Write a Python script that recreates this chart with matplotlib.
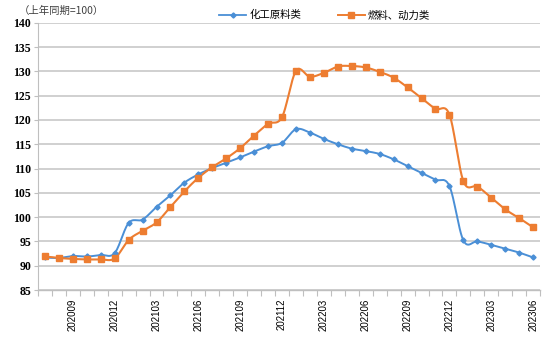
import numpy as np
import matplotlib
matplotlib.use("Agg")
import matplotlib.pyplot as plt
from matplotlib.ticker import FixedLocator

plt.rcParams['font.family'] = ['Noto Sans CJK SC', 'DejaVu Sans']

months = ["202007", "202008", "202009", "202010", "202011", "202012",
          "202101", "202102", "202103", "202104", "202105", "202106",
          "202107", "202108", "202109", "202110", "202111", "202112",
          "202201", "202202", "202203", "202204", "202205", "202206",
          "202207", "202208", "202209", "202210", "202211", "202212",
          "202301", "202302", "202303", "202304", "202305", "202306"]

chem = [91.7, 91.6, 92.0, 91.9, 92.2, 92.6,
        98.8, 99.5, 102.1, 104.5, 107.1, 108.8, 110.1, 111.2, 112.3, 113.5, 114.6, 115.3,
        118.1, 117.4, 116.1, 115.0, 114.1, 113.6, 113.0, 111.9, 110.5, 109.1, 107.7, 106.4,
        95.2, 95.0, 94.3, 93.5, 92.7, 91.7]

fuel = [91.9, 91.6, 91.4, 91.3, 91.3, 91.5,
        95.3, 97.2, 98.9, 102.1, 105.3, 108.1, 110.3, 112.1, 114.2, 116.8, 119.2, 120.6,
        130.1, 128.9, 129.7, 131.0, 131.1, 130.8, 129.9, 128.7, 126.7, 124.5, 122.3, 121.1,
        107.4, 106.3, 104.0, 101.6, 99.8, 97.9]

series_names = ["化工原料类", "燃料、动力类"]
label_months = months[2::3]
y_ticks = list(range(85, 141, 5))


def smooth(x, y, n=24):
    x = np.asarray(x, float)
    y = np.asarray(y, float)
    px = np.concatenate([[x[0]], x, [x[-1]]])
    py = np.concatenate([[y[0]], y, [y[-1]]])
    xs, ys = [], []
    t = np.linspace(0, 1, n)
    for i in range(len(x) - 1):
        p0 = np.array([px[i], py[i]])
        p1 = np.array([px[i + 1], py[i + 1]])
        p2 = np.array([px[i + 2], py[i + 2]])
        p3 = np.array([px[i + 3], py[i + 3]])
        c1 = p1 + (p2 - p0) / 6
        c2 = p2 - (p3 - p1) / 6
        b = ((1 - t) ** 3)[:, None] * p1 + (3 * (1 - t) ** 2 * t)[:, None] * c1 \
            + (3 * (1 - t) * t ** 2)[:, None] * c2 + (t ** 3)[:, None] * p2
        xs.append(b[:, 0])
        ys.append(b[:, 1])
    return np.concatenate(xs), np.concatenate(ys)


fig = plt.figure(figsize=(5.5, 3.4), dpi=100)
ax = fig.add_axes([0.069, 0.147, 0.913, 0.786])

x = np.arange(len(months))
blue = "#4a8fd6"
orange = "#ed7d31"

sx, sy = smooth(x, chem)
ax.plot(sx, sy, color=blue, lw=1.4, zorder=3)
ax.plot(x, chem, ls='none', marker='D', ms=2.6, color=blue, zorder=4)
sx, sy = smooth(x, fuel)
ax.plot(sx, sy, color=orange, lw=1.5, zorder=3)
ax.plot(x, fuel, ls='none', marker='s', ms=4.5, color=orange, zorder=4)

# legend proxies
hb, = ax.plot([], [], color=blue, lw=1.3, marker='D', ms=2.6)
ho, = ax.plot([], [], color=orange, lw=1.4, marker='s', ms=4.5)
fig.legend([hb, ho], series_names, loc='center', bbox_to_anchor=(0.59, 0.955),
           ncol=2, frameon=False, fontsize=7.5, handlelength=2.6, columnspacing=3.5,
           handletextpad=0.3)

ax.set_ylim(85, 140)
ax.set_xlim(-0.5, len(months) - 0.5)
ax.set_yticks(y_ticks)
ax.set_yticklabels([str(v) for v in y_ticks], fontfamily='Liberation Serif',
                   fontweight='bold', fontsize=8.5)
ax.yaxis.grid(True, color='#c8c8c8', lw=1.2)
ax.set_axisbelow(True)

idx = [months.index(m) for m in label_months]
ax.set_xticks(idx)
ax.set_xticklabels(label_months, rotation=90, fontfamily='Liberation Sans', fontsize=7)
ax.xaxis.set_minor_locator(FixedLocator(np.arange(-0.5, len(months), 1.0)))
ax.tick_params(axis='x', which='major', length=0, pad=6)
ax.tick_params(axis='x', which='minor', length=4, color='#bfbfbf', width=0.8, direction='out')
ax.tick_params(axis='y', length=3, color='#bfbfbf', width=0.8, pad=2)

for s in ['top', 'right']:
    ax.spines[s].set_visible(False)
ax.spines['left'].set_color('#bfbfbf')
ax.spines['bottom'].set_color('#bfbfbf')
ax.spines['bottom'].set_linewidth(1.0)

fig.text(0.034, 0.968, "（上年同期=100）", fontsize=7.5, color='#404040', va='center')

fig.savefig("out.png", dpi=100)
